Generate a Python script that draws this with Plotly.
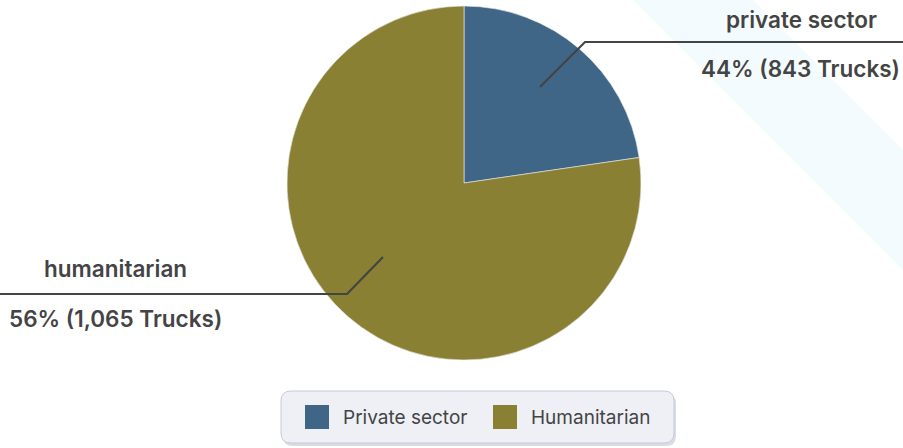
import plotly.graph_objects as go

W, H = 903, 448

categories = ["Private sector", "Humanitarian"]
label_names = ["private sector", "humanitarian"]
trucks = [843, 1065]
percent_labels = ["44%", "56%"]
# slice sizes as drawn in the picture
slice_share = [22.7, 77.3]
colors = ["#3f6686", "#8a8033"]

def px(x):
    return x / W

def py(y):
    return 1 - y / H

cx, cy, r = 464, 183, 177

fig = go.Figure()
fig.add_trace(go.Pie(
    labels=categories,
    values=slice_share,
    sort=False,
    direction="clockwise",
    rotation=0,
    textinfo="none",
    hoverinfo="label",
    marker=dict(colors=colors, line=dict(color="rgba(230,230,230,0.8)", width=0.8)),
    domain=dict(x=[px(cx - r), px(cx + r)], y=[py(cy + r), py(cy - r)]),
    showlegend=False,
))

shapes = []
# light diagonal band in background
shapes.append(dict(type="path", xref="paper", yref="paper", layer="below",
                   path=f"M {px(633)},{py(0)} L {px(753)},{py(0)} L {px(903)},{py(150)} L {px(903)},{py(270)} Z",
                   fillcolor="#f3fbfe", line=dict(width=0)))

# leader lines
def line_path(pts):
    return "M " + " L ".join(f"{px(x)},{py(y)}" for x, y in pts)

leaders = [[(540, 87), (585, 42), (903, 42)], [(383, 257), (347, 294), (0, 294)]]
for pts in leaders:
    shapes.append(dict(type="path", xref="paper", yref="paper", path=line_path(pts),
                       line=dict(color="#444444", width=2.2)))

# legend box with shadow
def rrect(x0, y0, x1, y1, rad):
    return (f"M {px(x0+rad)},{py(y0)} L {px(x1-rad)},{py(y0)} Q {px(x1)},{py(y0)} {px(x1)},{py(y0+rad)} "
            f"L {px(x1)},{py(y1-rad)} Q {px(x1)},{py(y1)} {px(x1-rad)},{py(y1)} "
            f"L {px(x0+rad)},{py(y1)} Q {px(x0)},{py(y1)} {px(x0)},{py(y1-rad)} "
            f"L {px(x0)},{py(y0+rad)} Q {px(x0)},{py(y0)} {px(x0+rad)},{py(y0)} Z")

shapes.append(dict(type="path", xref="paper", yref="paper", path=rrect(283, 394, 676, 446, 10),
                   fillcolor="rgba(120,130,150,0.28)", line=dict(width=0)))
shapes.append(dict(type="path", xref="paper", yref="paper", path=rrect(281, 391, 674, 443, 10),
                   fillcolor="#eef0f6", line=dict(color="#c5cad8", width=1)))

annotations = []
legend_x = [(305, 341), (493, 529)]
for i, cat in enumerate(categories):
    sx, tx = legend_x[i]
    shapes.append(dict(type="rect", xref="paper", yref="paper",
                       x0=px(sx), x1=px(sx + 24), y0=py(405), y1=py(429),
                       fillcolor=colors[i], line=dict(width=0)))
    annotations.append(dict(x=px(tx), y=py(417), xref="paper", yref="paper", text=cat,
                            showarrow=False, xanchor="left", yanchor="middle",
                            font=dict(family="Inter", size=19, color="#444444")))

label_pos = [(801, 19, 800, 68), (115, 268, 115, 318)]
for i in range(2):
    x1, y1, x2, y2 = label_pos[i]
    annotations.append(dict(x=px(x1), y=py(y1), xref="paper", yref="paper", text=label_names[i],
                            showarrow=False, xanchor="center", yanchor="middle",
                            font=dict(family="Inter", size=22.5, color="#444444", weight=600)))
    annotations.append(dict(x=px(x2), y=py(y2), xref="paper", yref="paper",
                            text=f"{percent_labels[i]} ({trucks[i]:,} Trucks)",
                            showarrow=False, xanchor="center", yanchor="middle",
                            font=dict(family="Inter", size=22.5, color="#444444", weight=600)))

fig.update_layout(
    width=W, height=H,
    margin=dict(l=0, r=0, t=0, b=0),
    paper_bgcolor="white",
    plot_bgcolor="white",
    shapes=shapes,
    annotations=annotations,
    showlegend=False,
)

fig.write_html("out.html")
